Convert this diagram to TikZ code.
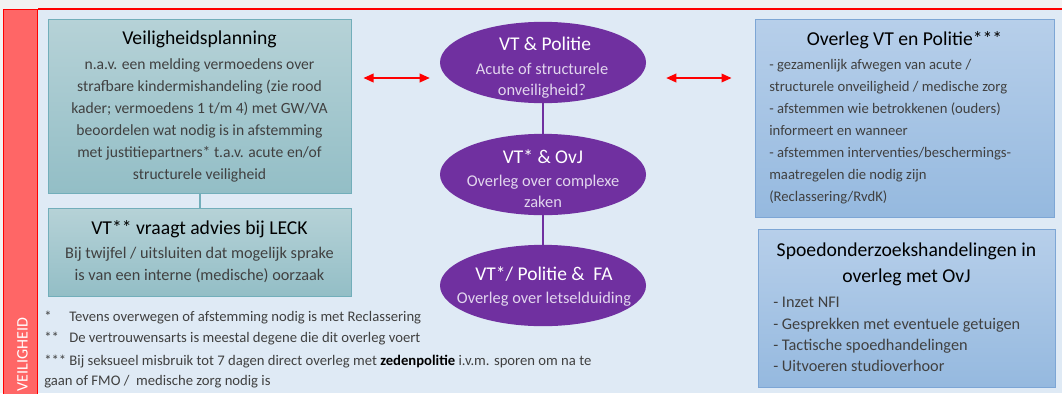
\documentclass[tikz,border=0pt]{standalone}
\usepackage{fontspec}
\setmainfont{Carlito}
\usetikzlibrary{shapes.geometric,arrows.meta,calc}
\tikzset{>={Triangle[length=7.5pt,width=6.5pt]}}
\definecolor{paper}{HTML}{F2F2F2}
\definecolor{panel}{HTML}{DFEAF5}
\definecolor{strip}{HTML}{FF6666}
\definecolor{tealtop}{HTML}{B6D2D7}
\definecolor{tealbot}{HTML}{93BEC6}
\definecolor{tealline}{HTML}{72AEBA}
\definecolor{bluetop}{HTML}{B7CFEA}
\definecolor{bluebot}{HTML}{95B9DF}
\definecolor{blueline}{HTML}{7DA6D5}
\definecolor{paars}{HTML}{7030A0}
\definecolor{lila}{HTML}{E2D6EE}
\definecolor{tekst}{HTML}{404040}
\newcommand{\fsz}[2]{\fontsize{#1}{#2}\selectfont}

\begin{document}
\begin{tikzpicture}[x=0.75pt,y=-0.75pt,
  tealbox/.style={draw=tealline,line width=0.75pt,top color=tealtop,bottom color=tealbot,minimum width=227.25pt,inner sep=0pt},
  bluebox/.style={draw=blueline,line width=0.75pt,top color=bluetop,bottom color=bluebot,inner sep=0pt},
  oval/.style={ellipse,fill=paars,minimum width=154.5pt,minimum height=61pt,inner sep=0pt},
  titel/.style={font=\fsz{14.75}{20},text=black,inner sep=0pt,align=center},
  romp/.style={font=\fsz{11.7}{16.5},text=tekst,inner sep=0pt},
  ovaltitel/.style={font=\fsz{14.6}{17},text=white,inner sep=0pt},
  ovalromp/.style={font=\fsz{12.3}{15.75},text=lila,inner sep=0pt,align=center},
  link/.style={line width=1.5pt}]
  \useasboundingbox (0,0) rectangle (1062,393);
  \clip (0,0) rectangle (1062,393);
  % achtergrond en rode band
  \fill[paper] (0,0) rectangle (1062,393);
  \fill[panel] (38,9) rectangle (1062,393);
  \draw[red,line width=1.5pt] (38,8.5) -- (1062,8.5);
  \draw[red,fill=strip,line width=0.75pt] (3.5,9) rectangle (37.5,400);
  \node[rotate=90,anchor=west,text=white,font=\fsz{12}{14}] (band) at (22.5,396) {VEILIGHEID};

  % linker kolom
  \node[tealbox,minimum height=130.5pt] (plan) at (199.5,106) {};
  \node[titel] (plantitel) at (199.5,39) {Veiligheidsplanning};
  \node[romp,align=center] (plantekst) at (199.5,120) {n.a.v. een melding vermoedens over\\
    strafbare kindermishandeling (zie rood\\
    kader; vermoedens 1 t/m 4) met GW/VA\\
    beoordelen wat nodig is in afstemming\\
    met justitiepartners* t.a.v. acute en/of\\
    structurele veiligheid};
  \node[tealbox,minimum height=66pt] (leck) at (199.5,252) {};
  \node[titel] (lecktitel) at (199.5,229) {VT** vraagt advies bij LECK};
  \node[romp,align=center,font=\fsz{12.2}{16.5}] (lecktekst) at (199.5,265) {Bij twijfel / uitsluiten dat mogelijk sprake\\
    is van een interne (medische) oorzaak};
  \draw[tealline,link] (plan) -- (leck);

  % ovalen in het midden
  \node[oval] (vtpol) at (543,62.5) {};
  \node[oval] (vtovj) at (543,174.5) {};
  \node[oval] (vtfa) at (543,285.5) {};
  \draw[paars,link] (vtpol) -- (vtovj);
  \draw[paars,link] (vtovj) -- (vtfa);
  \node[ovaltitel] (vtpoltitel) at (545,44) {VT \& Politie};
  \node[ovalromp] (vtpoltekst) at (542,80.5) {Acute of structurele\\onveiligheid?};
  \node[ovaltitel] (vtovjtitel) at (543,157) {VT* \& OvJ};
  \node[ovalromp] (vtovjtekst) at (543,191.5) {Overleg over complexe\\zaken};
  \node[ovaltitel] (vtfatitel) at (544,274) {VT*/ Politie \&\ \ FA};
  \node[ovalromp] (vtfatekst) at (544,299) {Overleg over letselduiding};

  % rode pijlen
  \coordinate (pijlA) at ($(plan.east |- 0,78)+(12,0)$);
  \coordinate (pijlB) at ($(vtpol.west |- 0,78)+(-10,0)$);
  \coordinate (pijlC) at ($(vtpol.east |- 0,78)+(20,0)$);
  \draw[<->,red,line width=1.1pt] (pijlA) -- (pijlB);

  % rechter kolom
  \node[bluebox,minimum width=224.25pt,minimum height=148.5pt] (overleg) at (904.5,118) {};
  \node[titel] (overlegtitel) at (904.5,40) {Overleg VT en Politie***};
  \node[romp,align=left,anchor=west,font=\fsz{11}{16.5}] (overlegtekst) at (769,131.5) {- gezamenlijk afwegen van acute /\\
    structurele onveiligheid / medische zorg\\
    - afstemmen wie betrokkenen (ouders)\\
    informeert en wanneer\\
    - afstemmen interventies/beschermings-\\
    maatregelen die nodig zijn\\
    (Reclassering/RvdK)};
  \coordinate (pijlD) at ($(overleg.west |- 0,78)+(-23,0)$);
  \draw[<->,red,line width=1.1pt] (pijlC) -- (pijlD);
  \node[bluebox,minimum width=222.75pt,minimum height=118.5pt] (spoed) at (906.5,308) {};
  \node[titel] (spoedtitel) at (906.5,264.5) {Spoedonderzoekshandelingen in\\overleg met OvJ};
  \node[romp,align=left,anchor=west,font=\fsz{12.2}{15.9}] (spoedtekst) at (773,334.5) {- Inzet NFI\\
    - Gesprekken met eventuele getuigen\\
    - Tactische spoedhandelingen\\
    - Uitvoeren studioverhoor};

  % voetnoten
  \node[romp,anchor=west,font=\fsz{11}{15}] (noot1) at (44,318) {\makebox[18.75pt][l]{*}Tevens overwegen of afstemming nodig is met Reclassering};
  \node[romp,anchor=west,font=\fsz{11}{15}] (noot2) at (44,339) {\makebox[18.75pt][l]{**}De vertrouwensarts is meestal degene die dit overleg voert};
  \node[romp,anchor=west,align=left,font=\fsz{11}{15}] (noot3) at (44,372) {*** Bij seksueel misbruik tot 7 dagen direct overleg met \textbf{\color{black}zedenpolitie} i.v.m. sporen om na te\\
    gaan of FMO /\ \ medische zorg nodig is};
\end{tikzpicture}
\end{document}
